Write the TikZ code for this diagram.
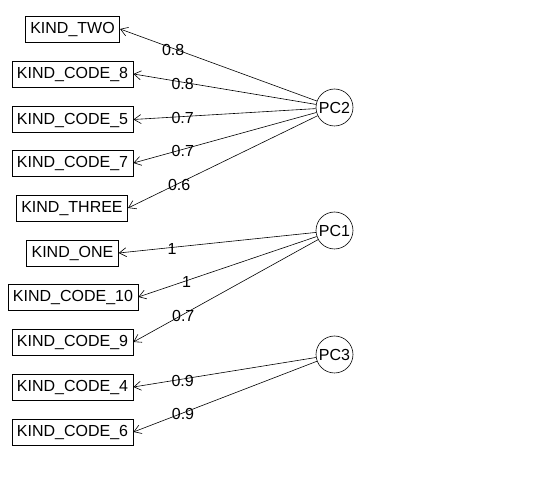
\documentclass[tikz,border=0pt]{standalone}
\usepackage{fontspec}
\setmainfont{Liberation Sans}
\usetikzlibrary{arrows.meta}
\begin{document}
\begin{tikzpicture}[x=1pt,y=-1pt,
  fnt/.style={font=\fontsize{16}{18}\selectfont},
  var/.style={draw, fnt, inner xsep=5pt, inner ysep=0pt, minimum height=26pt, text height=12pt, text depth=2.5pt, line width=0.7pt},
  pc/.style={draw, circle, fnt, minimum size=37pt, inner sep=0pt, line width=0.6pt},
  ld/.style={-{Straight Barb[length=7pt,width=9pt]}, line width=0.6pt},
  lab/.style={pos=0.73, fnt, inner sep=0pt, yshift=-1.5pt}]
\useasboundingbox (0,0) rectangle (542,489);
% variable boxes
\node[var] (ktwo)  at (72.5,29)  {KIND\_TWO};
\node[var] (kc8)   at (72.5,74)  {KIND\_CODE\_8};
\node[var] (kc5)   at (72.5,119.5) {KIND\_CODE\_5};
\node[var] (kc7)   at (72.5,163) {KIND\_CODE\_7};
\node[var] (kthr)  at (72,208)   {KIND\_THREE};
\node[var] (kone)  at (72.5,253) {KIND\_ONE};
\node[var] (kc10)  at (73,297)   {KIND\_CODE\_10};
\node[var] (kc9)   at (72.5,342) {KIND\_CODE\_9};
\node[var] (kc4)   at (72.5,387) {KIND\_CODE\_4};
\node[var] (kc6)   at (72.5,432) {KIND\_CODE\_6};
% components
\node[pc] (pc2) at (334.5,107.5) {PC2};
\node[pc] (pc1) at (334.5,230.5) {PC1};
\node[pc] (pc3) at (334.5,354.5) {PC3};
% loadings
\draw[ld] (pc2) -- node[lab] {0.8} (ktwo.east);
\draw[ld] (pc2) -- node[lab] {0.8} (kc8.east);
\draw[ld] (pc2) -- node[lab] {0.7} (kc5.east);
\draw[ld] (pc2) -- node[lab] {0.7} (kc7.east);
\draw[ld] (pc2) -- node[lab] {0.6} (kthr.east);
\draw[ld] (pc1) -- node[lab] {1} (kone.east);
\draw[ld] (pc1) -- node[lab] {1} (kc10.east);
\draw[ld] (pc1) -- node[lab] {0.7} (kc9.east);
\draw[ld] (pc3) -- node[lab] {0.9} (kc4.east);
\draw[ld] (pc3) -- node[lab] {0.9} (kc6.east);
\end{tikzpicture}
\end{document}
